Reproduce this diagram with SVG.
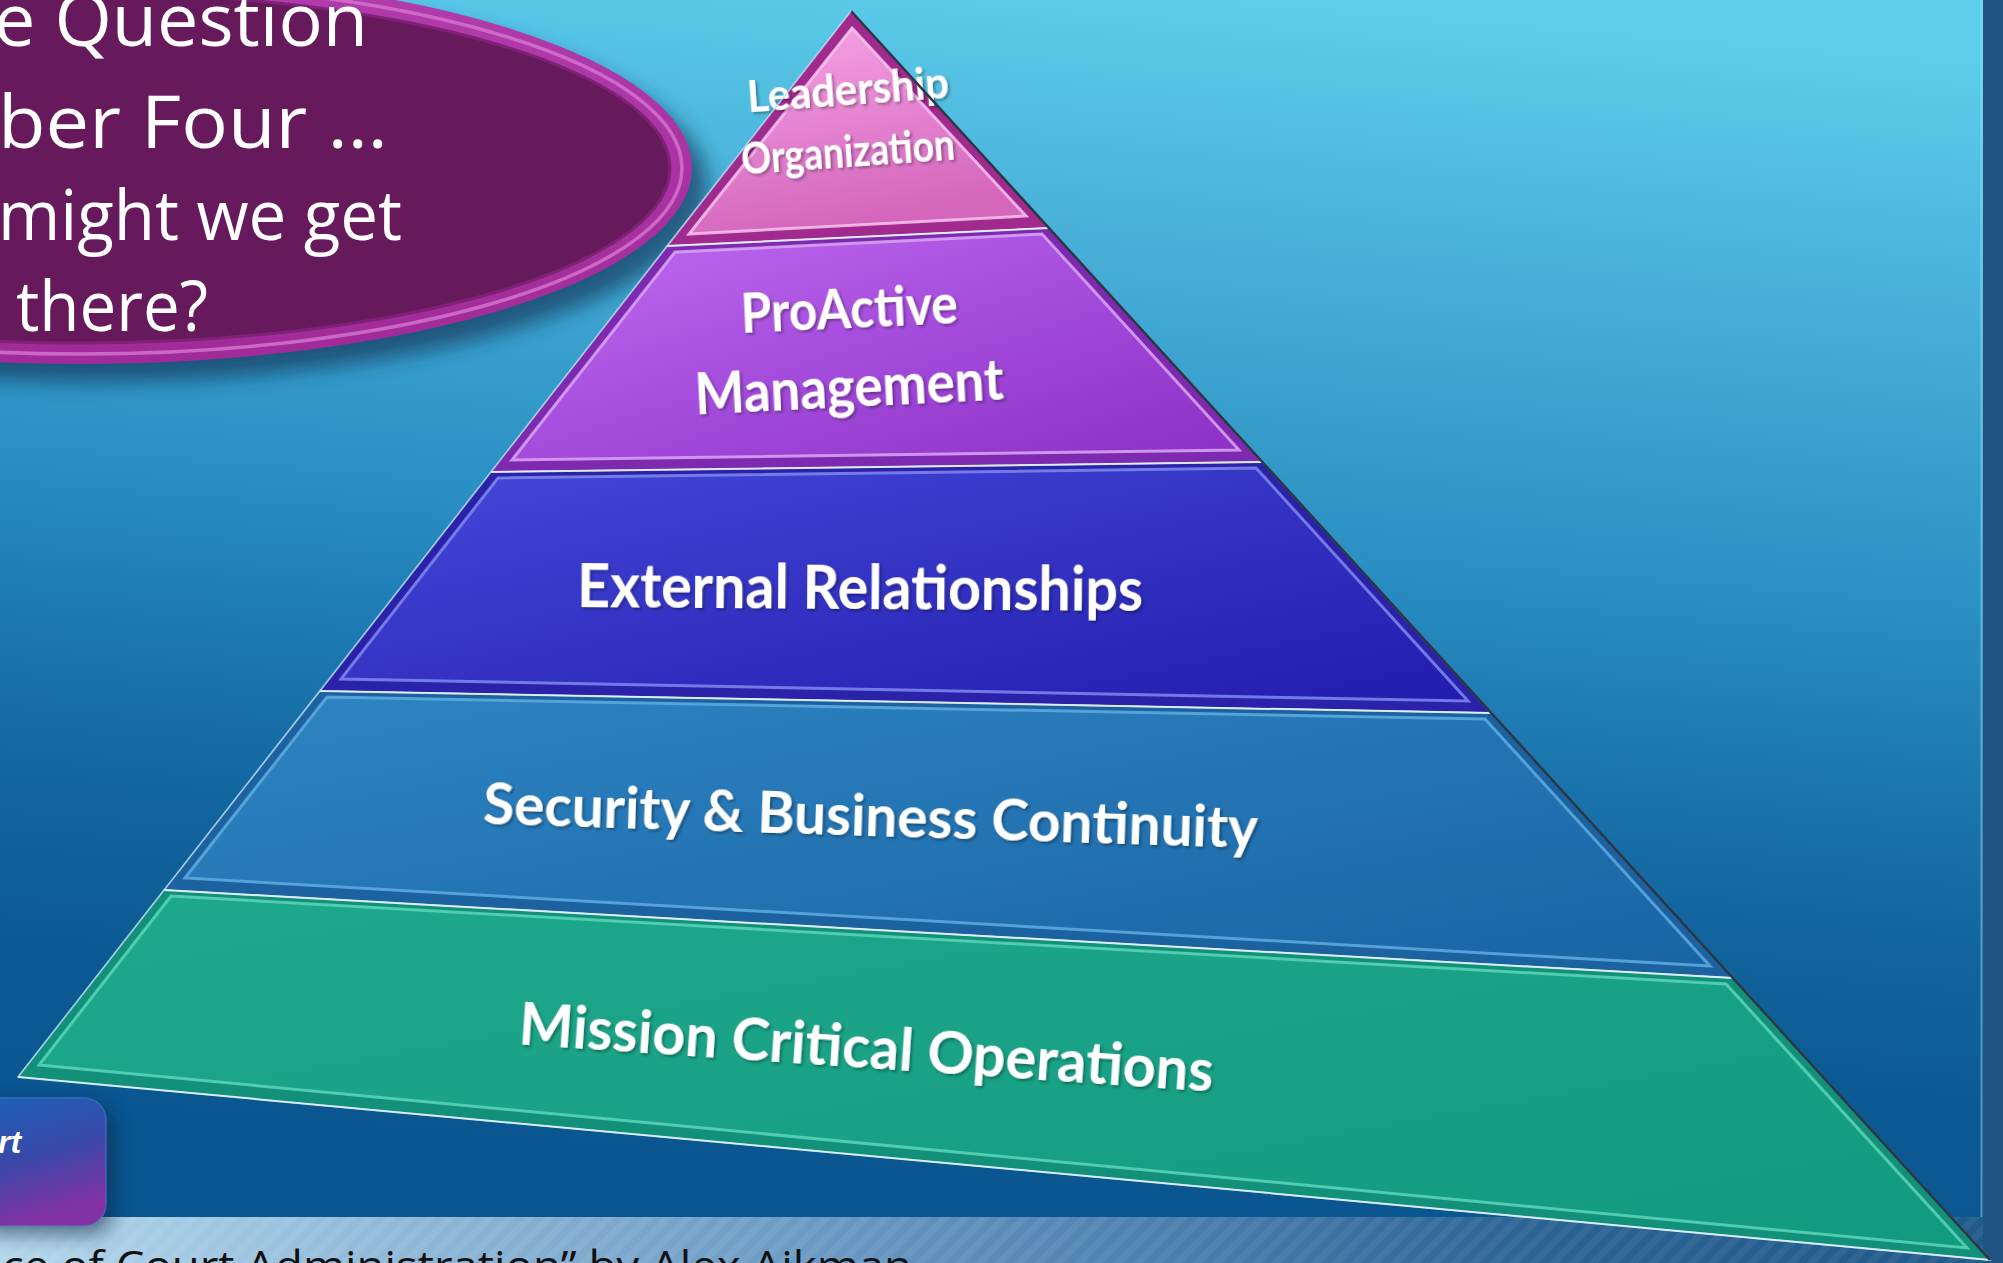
<svg xmlns="http://www.w3.org/2000/svg" width="2003" height="1263" viewBox="0 0 2003 1263">
<defs>
  <linearGradient id="bg" gradientUnits="userSpaceOnUse" x1="1200" y1="0" x2="1100" y2="1217">
    <stop offset="0" stop-color="#5ccdeb"/>
    <stop offset="0.2" stop-color="#48b0d8"/>
    <stop offset="0.45" stop-color="#2a8fc2"/>
    <stop offset="0.55" stop-color="#1f7db5"/>
    <stop offset="0.72" stop-color="#12659e"/>
    <stop offset="0.85" stop-color="#0c5a94"/>
    <stop offset="1" stop-color="#0a5590"/>
  </linearGradient>
  <linearGradient id="strip" x1="0" y1="0" x2="1" y2="0">
    <stop offset="0" stop-color="#b4d7ec"/>
    <stop offset="0.5" stop-color="#5a8cba"/>
    <stop offset="0.78" stop-color="#2a6294"/>
    <stop offset="1" stop-color="#1f5a8a"/>
  </linearGradient>
  <pattern id="stripes" width="14" height="14" patternUnits="userSpaceOnUse" patternTransform="rotate(45)">
    <rect width="7" height="14" fill="#ffffff" opacity="0.06"/>
  </pattern>
  <linearGradient id="boxg" x1="0" y1="0" x2="0.3" y2="1">
    <stop offset="0" stop-color="#1a62b8"/>
    <stop offset="0.55" stop-color="#3a48a8"/>
    <stop offset="1" stop-color="#8232a4"/>
  </linearGradient>
  <linearGradient id="rim" x1="0" y1="0" x2="0" y2="1">
    <stop offset="0" stop-color="#b23cab"/>
    <stop offset="1" stop-color="#a02a98"/>
  </linearGradient>
  <linearGradient id="gPink" x1="0" y1="0" x2="0.3" y2="1">
    <stop offset="0" stop-color="#f8a6e8"/>
    <stop offset="1" stop-color="#d466bc"/>
  </linearGradient>
  <linearGradient id="gPurple" x1="0" y1="0" x2="1" y2="1">
    <stop offset="0" stop-color="#c06cf2"/>
    <stop offset="0.5" stop-color="#a44cdc"/>
    <stop offset="1" stop-color="#8a30c4"/>
  </linearGradient>
  <linearGradient id="gIndigo" x1="0" y1="0" x2="1" y2="1">
    <stop offset="0" stop-color="#4448d8"/>
    <stop offset="1" stop-color="#221cae"/>
  </linearGradient>
  <linearGradient id="gSteel" x1="0" y1="0" x2="1" y2="1">
    <stop offset="0" stop-color="#2e84c2"/>
    <stop offset="1" stop-color="#1a64a4"/>
  </linearGradient>
  <linearGradient id="gTeal" x1="0" y1="0" x2="1" y2="1">
    <stop offset="0" stop-color="#1fa98c"/>
    <stop offset="1" stop-color="#129a7e"/>
  </linearGradient>
  <filter id="blur" x="-20%" y="-30%" width="140%" height="160%">
    <feGaussianBlur stdDeviation="10"/>
  </filter>
  <filter id="ts" x="-10%" y="-30%" width="120%" height="160%">
    <feDropShadow dx="2" dy="2" stdDeviation="1.5" flood-color="#000000" flood-opacity="0.35"/>
  </filter>
</defs>
<style>
  .q { font-family: "Open Sans", "Liberation Sans", sans-serif; fill: #ffffff; }
  .tier { font-family: Lato, "Liberation Sans", sans-serif; font-weight: bold; fill: #ffffff; text-anchor: middle; filter: url(#ts); }
  .bevel { stroke: #d8eef8; stroke-width: 1.5; stroke-opacity: 0.6; }
  .inner { stroke-width: 3; stroke-opacity: 0.85; }
  .junction { stroke: #e6f6fb; stroke-width: 2; stroke-opacity: 0.85; fill: none; }
</style>

<g id="background">
  <rect x="0" y="0" width="1983" height="1217" fill="url(#bg)"/>
  <rect x="1983" y="0" width="20" height="1263" fill="#1f5580"/>
  <line x1="1981.5" y1="0" x2="1981.5" y2="1217" stroke="#9fe6f8" stroke-opacity="0.45" stroke-width="2"/>
</g>

<g id="footer">
  <rect x="0" y="1217" width="1983" height="46" fill="url(#strip)"/>
  <rect x="0" y="1217" width="1983" height="46" fill="url(#stripes)"/>
  <text x="2" y="1281" font-family="Open Sans, Liberation Sans, sans-serif" font-size="42" fill="#111111" textLength="910" lengthAdjust="spacingAndGlyphs">ce of Court Administration” by Alex Aikman</text>
</g>

<g id="question-bubble">
  <ellipse cx="96" cy="186" rx="612" ry="196" fill="#08284a" opacity="0.6" filter="url(#blur)"/>
  <ellipse cx="80" cy="168" rx="612" ry="196" fill="url(#rim)"/>
  <ellipse cx="80" cy="168" rx="602" ry="186" fill="none" stroke="#d272ce" stroke-width="3.5" opacity="0.85"/>
  <ellipse cx="80" cy="168" rx="590" ry="175" fill="#661a5b" stroke="#7e2276" stroke-width="3"/>
  <text class="q" x="-6" y="46" font-size="74" textLength="374" lengthAdjust="spacingAndGlyphs">e Question</text>
  <text class="q" x="-2" y="148" font-size="74" textLength="390" lengthAdjust="spacingAndGlyphs">ber Four …</text>
  <text class="q" x="-2" y="240" font-size="70" textLength="404" lengthAdjust="spacingAndGlyphs">might we get</text>
  <text class="q" x="16" y="331" font-size="70" textLength="192" lengthAdjust="spacingAndGlyphs">there?</text>
</g>

<g id="pyramid">
  <g id="tier-leadership">
    <polygon class="bevel" points="851,11 1049,228 667,246" fill="#a02a8e"/>
    <polygon class="inner" points="852,28 1026,216 689,234" fill="url(#gPink)" stroke="#f8c4ee"/>
    <text class="tier" x="849" y="105" font-size="44" textLength="202" lengthAdjust="spacingAndGlyphs" transform="rotate(-4.2 849 105)">Leadership</text>
    <text class="tier" x="849" y="167" font-size="44" textLength="214" lengthAdjust="spacingAndGlyphs" transform="rotate(-4 849 167)">Organization</text>
  </g>
  <g id="tier-proactive">
    <polygon class="bevel" points="667,246 1049,228 1262,462 491,472" fill="#7d2ab0"/>
    <polygon class="inner" points="675,252 1042,234 1239,450 512,460" fill="url(#gPurple)" stroke="#dca6f6"/>
    <text class="tier" x="850" y="328" font-size="56" textLength="217" lengthAdjust="spacingAndGlyphs" transform="rotate(-2.6 850 328)">ProActive</text>
    <text class="tier" x="850" y="407" font-size="58" textLength="309" lengthAdjust="spacingAndGlyphs" transform="rotate(-2.8 850 407)">Management</text>
  </g>
  <g id="tier-external">
    <polygon class="bevel" points="491,472 1262,462 1491,713 320,691" fill="#2a22a8"/>
    <polygon class="inner" points="498,478 1256,468 1468,701 341,679" fill="url(#gIndigo)" stroke="#8088f0"/>
    <text class="tier" x="860" y="609" font-size="62" textLength="566" lengthAdjust="spacingAndGlyphs" transform="rotate(0.4 860 609)">External Relationships</text>
  </g>
  <g id="tier-security">
    <polygon class="bevel" points="320,691 1491,713 1733,978 164,890" fill="#1d62a0"/>
    <polygon class="inner" points="327,697 1485,719 1710,966 185,878" fill="url(#gSteel)" stroke="#5eace2"/>
    <text class="tier" x="870" y="836" font-size="58" textLength="775" lengthAdjust="spacingAndGlyphs" transform="rotate(1.8 870 836)">Security &amp; Business Continuity</text>
  </g>
  <g id="tier-mission">
    <polygon class="bevel" points="164,890 1733,978 1990,1260 18,1077" fill="#13907a"/>
    <polygon class="inner" points="171,896 1726,984 1967,1248 39,1065" fill="url(#gTeal)" stroke="#5ad6b8"/>
    <text class="tier" x="865" y="1068" font-size="60" textLength="696" lengthAdjust="spacingAndGlyphs" transform="rotate(3.9 865 1068)">Mission Critical Operations</text>
  </g>
  <g id="pyramid-edges">
    <line class="junction" x1="667" y1="246" x2="1049" y2="228"/>
    <line class="junction" x1="491" y1="472" x2="1262" y2="462"/>
    <line class="junction" x1="320" y1="691" x2="1491" y2="713"/>
    <line class="junction" x1="164" y1="890" x2="1733" y2="978"/>
    <line class="junction" x1="18" y1="1077" x2="1990" y2="1260"/>
    <line x1="851" y1="11" x2="1990" y2="1260" stroke="#2b3644" stroke-width="2.5"/>
    <line x1="851" y1="11" x2="18" y2="1077" stroke="#a8d4ea" stroke-width="1.5" stroke-opacity="0.7"/>
  </g>
</g>

<g id="side-box">
  <rect x="-24" y="1106" width="136" height="128" rx="22" fill="#08203e" opacity="0.6" filter="url(#blur)"/>
  <rect x="-30" y="1098" width="136" height="128" rx="22" fill="url(#boxg)" stroke="#4a7fd0" stroke-width="1.5" stroke-opacity="0.6"/>
  <text x="-2" y="1153" font-family="Liberation Sans, Arial, sans-serif" font-weight="bold" font-style="italic" font-size="32" fill="#ffffff">rt</text>
</g>
</svg>
